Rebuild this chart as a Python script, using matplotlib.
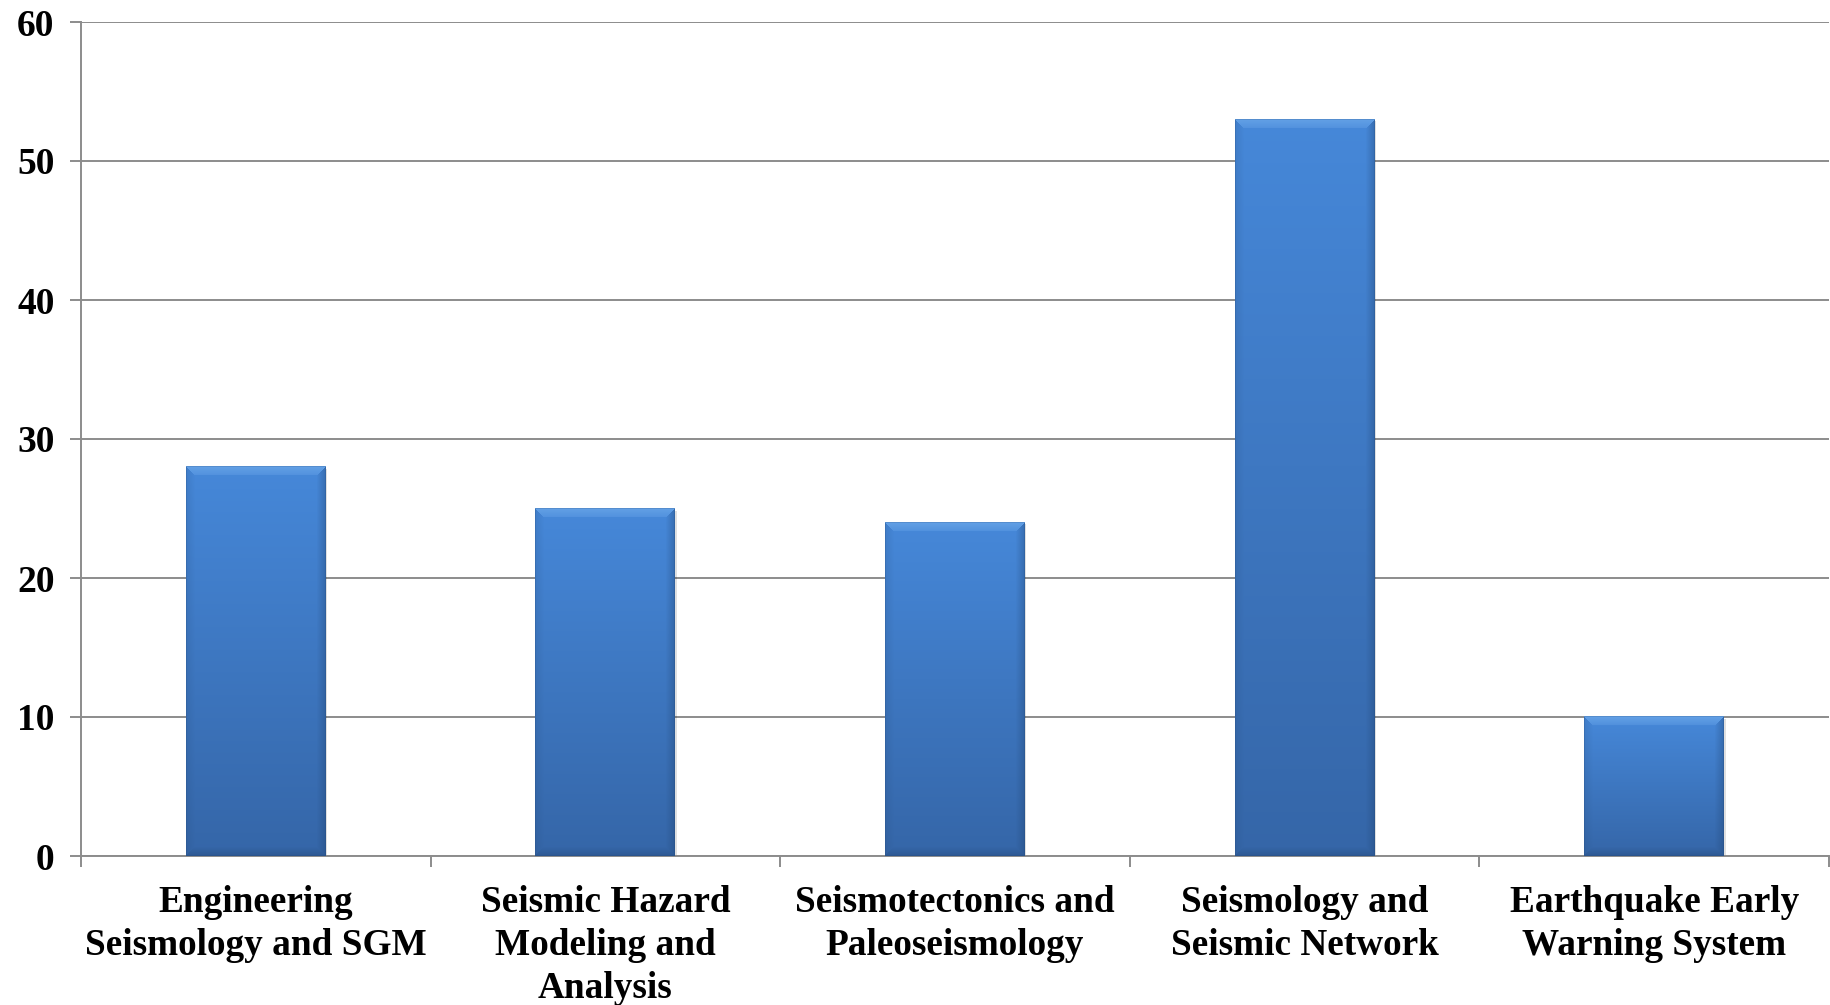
import numpy as np
import matplotlib
matplotlib.use("Agg")
import matplotlib.pyplot as plt
from matplotlib.colors import to_rgb

categories = ["Engineering\nSeismology and SGM",
              "Seismic Hazard\nModeling and\nAnalysis",
              "Seismotectonics and\nPaleoseismology",
              "Seismology and\nSeismic Network",
              "Earthquake Early\nWarning System"]
values = [28, 25, 24, 53, 10]
yticks = [0, 10, 20, 30, 40, 50, 60]

W, H = 1831, 1005
fig = plt.figure(figsize=(W / 100, H / 100), dpi=100)
ax = fig.add_axes([81 / W, (H - 856) / H, (1829 - 81) / W, (856 - 22) / H])

x = np.arange(len(categories))
bars = ax.bar(x, values, width=0.4, color="none", edgecolor="none", zorder=3)
ax.set_xlim(-0.5, len(categories) - 0.5)
ax.set_ylim(0, 60)

grid_col = "#8c8c8c"
ax.set_yticks(yticks)
ax.yaxis.grid(True, color=grid_col, linewidth=1.4, zorder=0)
ax.set_axisbelow(True)
for s in ["top", "right"]:
    ax.spines[s].set_visible(False)
for s in ["left", "bottom"]:
    ax.spines[s].set_color(grid_col)
    ax.spines[s].set_linewidth(1.4)

serif = ["Liberation Serif", "DejaVu Serif"]
ax.tick_params(axis="y", length=8, width=1.4, color=grid_col, pad=11,
               labelsize=27)
for lab in ax.get_yticklabels():
    lab.set_fontfamily(serif)
    lab.set_fontweight("bold")

ax.set_xticks(np.arange(-0.5, len(categories)), minor=False)
ax.set_xticklabels([])
ax.tick_params(axis="x", which="major", length=8, width=1.4, color=grid_col)
ax.set_xticks(x, minor=True)
ax.set_xticklabels(categories, minor=True, fontsize=26.8, fontweight="bold",
                   family=serif, linespacing=1.3)
ax.tick_params(axis="x", which="minor", length=0, pad=21)

# bevelled gradient fill for bars
fig.canvas.draw()
top_c = np.array(to_rgb("#4688d9"))
bot_c = np.array(to_rgb("#3566a8"))
light = np.array(to_rgb("#7ab4f0"))
dark = np.array(to_rgb("#1f426f"))
b = 9
for rect, v in zip(bars, values):
    x0, x1 = rect.get_x(), rect.get_x() + rect.get_width()
    p0 = ax.transData.transform((x0, 0))
    p1 = ax.transData.transform((x1, v))
    wpx = max(int(round(p1[0] - p0[0])), 2)
    hpx = max(int(round(p1[1] - p0[1])), 2)
    ii, jj = np.mgrid[0:hpx, 0:wpx]
    t = ii / max(hpx - 1, 1)
    img = top_c[None, None, :] * (1 - t[..., None]) + bot_c[None, None, :] * t[..., None]
    dt, db, dl, dr = ii, hpx - 1 - ii, jj, wpx - 1 - jj
    dmin = np.minimum(np.minimum(dt, db), np.minimum(dl, dr))
    edge = dmin < b
    f = (1 - dmin / b)
    top_m = edge & (dt == dmin)
    bot_m = edge & (db == dmin) & ~top_m
    right_m = edge & (dr == dmin) & ~top_m & ~bot_m
    left_m = edge & (dl == dmin) & ~top_m & ~bot_m & ~right_m
    k = 0.55 * (0.4 + 0.6 * f)
    img[top_m] = img[top_m] * (1 - k[top_m, None]) + light * k[top_m, None]
    kd = 0.35 * f
    img[bot_m] = img[bot_m] * (1 - kd[bot_m, None]) + dark * kd[bot_m, None]
    img[right_m] = img[right_m] * (1 - kd[right_m, None]) + dark * kd[right_m, None]
    kl = 0.15 * f
    img[left_m] = img[left_m] * (1 - kl[left_m, None]) + dark * kl[left_m, None]
    outline = dmin < 1
    img[outline] = img[outline] * 0.8 + dark * 0.2
    ax.imshow(img, extent=(x0, x1, 0, v), aspect="auto", origin="upper",
              interpolation="bilinear", zorder=3)
    ax.bar(rect.get_x() + rect.get_width() / 2 + 0.004, v, width=0.4,
           bottom=-0.15, color="#000000", alpha=0.12, zorder=2.5,
           edgecolor="none")

ax.set_xlim(-0.5, len(categories) - 0.5)
ax.set_ylim(0, 60)
fig.savefig("out.png", dpi=100)
